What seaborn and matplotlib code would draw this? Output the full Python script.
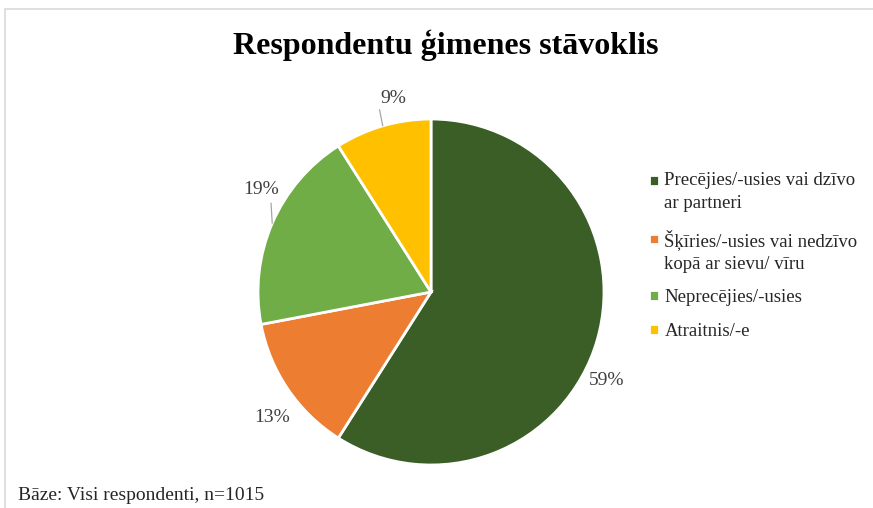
import numpy as np
import matplotlib
matplotlib.use("Agg")
import matplotlib.pyplot as plt
import seaborn as sns
from matplotlib.patches import Rectangle


# dati
kategorijas = [
    "Precējies/-usies vai dzīvo\nar partneri",
    "Šķīries/-usies vai nedzīvo\nkopā ar sievu/ vīru",
    "Neprecējies/-usies",
    "Atraitnis/-e",
]
procenti = [59, 13, 19, 9]
krasas = ["#3B5E27", "#ED7D31", "#70AD47", "#FFC000"]

virsraksts = "Respondentu ģimenes stāvoklis"
baze = "Bāze: Visi respondenti, n=1015"


sns.set_theme(style="white")
plt.rcParams["font.family"] = ["Liberation Serif", "DejaVu Serif"]

W, H = 873, 508
fig = plt.figure(figsize=(W / 100, H / 100), dpi=100)

# ramis
fig.patches.append(Rectangle(
    (5 / W, -0.1), 1.2, (H - 9) / H + 0.1,
    transform=fig.transFigure, fill=False,
    edgecolor="#D9D9D9", linewidth=1.2
))

cx, cy, r = 431, 292, 173
ax = fig.add_axes([(cx - r) / W, (H - cy - r) / H, 2 * r / W, 2 * r / H])

wedges, _ = ax.pie(
    procenti,
    colors=krasas,
    startangle=90,
    counterclock=False,
    wedgeprops=dict(edgecolor="white", linewidth=2),
)
ax.set_xlim(-1, 1)
ax.set_ylim(-1, 1)
ax.set_aspect("equal")
ax.axis("off")

# etiķetes
nobide = [-10.6, 4.2, -7.7, -5.2]
attalums = [1.14, 1.17, 1.15, 1.14]
linijas = [None, None, (0.06, -0.08), (-0.08, -0.065)]

for w, p, d, rr, lin in zip(wedges, procenti, nobide, attalums, linijas):
    mid = (w.theta1 + w.theta2) / 2
    ang = np.deg2rad(mid + d)
    tx, ty = rr * np.cos(ang), rr * np.sin(ang)
    ax.text(tx, ty, f"{p}%", ha="center", va="center",
            fontsize=14, color="#404040")
    if lin is not None:
        a0 = np.deg2rad(mid)
        ax.plot([tx + lin[0], np.cos(a0)],
                [ty + lin[1], np.sin(a0)],
                color="#A6A6A6", linewidth=0.9, clip_on=False)

fig.text(446 / W, 1 - 45 / H, virsraksts, ha="center", va="center",
         fontsize=23, fontweight="bold", color="black")

fig.text(18 / W, 1 - 495 / H, baze, ha="left", va="center",
         fontsize=14, color="#262626")

# legenda
leg = fig.legend(
    wedges, kategorijas,
    loc="upper left",
    bbox_to_anchor=(636 / W, 1 - 159 / H),
    frameon=False,
    fontsize=13.5,
    handlelength=0.5,
    handleheight=0.5,
    handletextpad=0.32,
    labelspacing=0.9,
    borderpad=0.2,
)
for t in leg.get_texts():
    t.set_color("#262626")
    t.set_linespacing(1.45)

# marķieri pie pirmās rindas
for h, k in zip(leg.legend_handles, kategorijas):
    if "\n" in k:
        h.set_y(h.get_y() + 8.3)

fig.savefig("out.png", dpi=100)
